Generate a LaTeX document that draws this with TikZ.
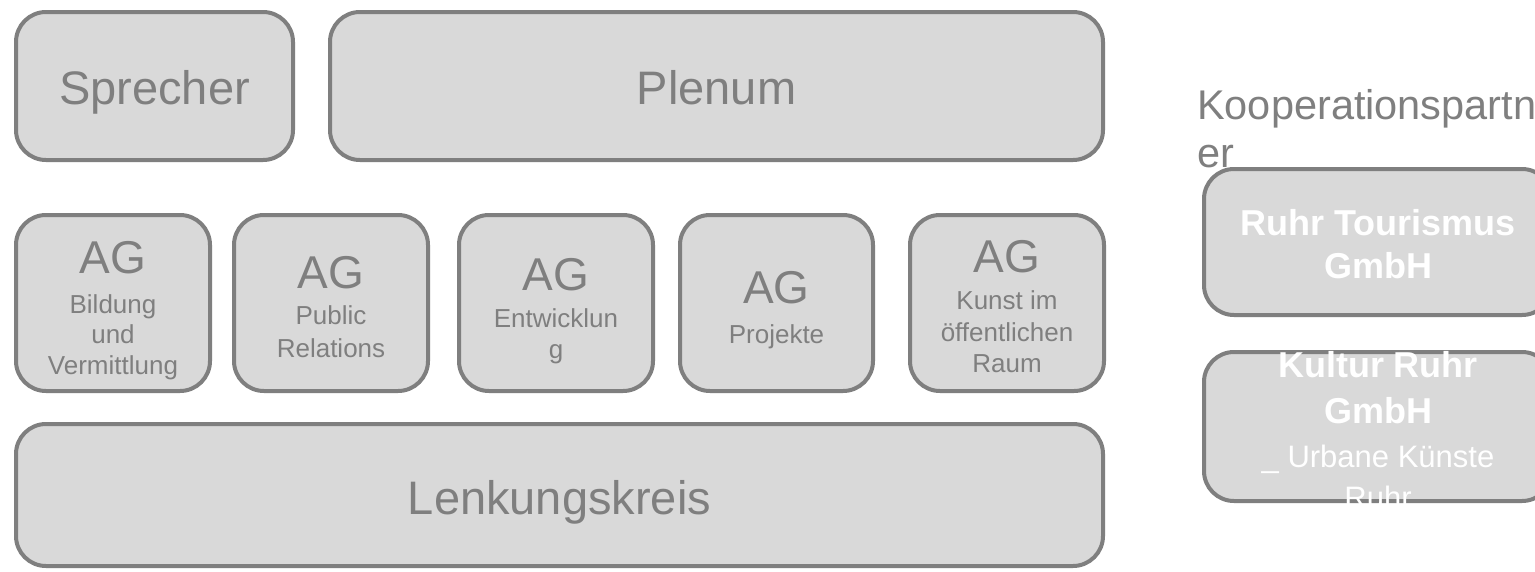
\documentclass[tikz,border=0pt]{standalone}
\usepackage{fontspec}
\setmainfont{Liberation Sans}
\definecolor{boxfill}{HTML}{D9D9D9}
\definecolor{boxline}{HTML}{7F7F7F}
\definecolor{txtgray}{HTML}{7F7F7F}
\tikzset{
  box/.style={draw=boxline, fill=boxfill, line width=4pt, rounded corners=30pt, inner sep=0pt},
  big/.style={text=txtgray, inner sep=0pt, anchor=base, font=\fontsize{47}{56}\selectfont},
  ag/.style={text=txtgray, inner sep=0pt, anchor=base, font=\fontsize{46}{55}\selectfont},
  sub/.style={text=txtgray, inner sep=0pt, anchor=base, font=\fontsize{26}{31}\selectfont},
  side/.style={text=txtgray, inner sep=0pt, anchor=base west, font=\fontsize{41.5}{48}\selectfont},
  wbold/.style={text=white, inner sep=0pt, anchor=base, font=\fontsize{36}{43}\selectfont\bfseries},
  wreg/.style={text=white, inner sep=0pt, anchor=base, font=\fontsize{31}{40}\selectfont},
}
\begin{document}
\begin{tikzpicture}[x=1pt, y=-1pt]
\useasboundingbox[fill=white] (0,0) rectangle (1535,571);
% top row
\node[box, minimum width=277, minimum height=148] (sprecher) at (154.5,86) {};
\node[big] (sprechert) at (154.5,104) {Sprecher};
\node[box, minimum width=773, minimum height=148] (plenum) at (716.5,86) {};
\node[big] (plenumt) at (716.5,104) {Plenum};
% AG row
\node[box, minimum width=194, minimum height=176] (ag1) at (113,303) {};
\node[ag] (ag1a) at (113,273) {AG};
\node[sub] (ag1b) at (113,313) {Bildung};
\node[sub] (ag1c) at (113,343) {und};
\node[sub] (ag1d) at (113,374) {Vermittlung};
\node[box, minimum width=194, minimum height=176] (ag2) at (331,303) {};
\node[ag] (ag2a) at (331,288) {AG};
\node[sub] (ag2b) at (331,324) {Public};
\node[sub] (ag2c) at (331,357) {Relations};
\node[box, minimum width=194, minimum height=176] (ag3) at (556,303) {};
\node[ag] (ag3a) at (556,290) {AG};
\node[sub] (ag3b) at (556,327) {Entwicklun};
\node[sub] (ag3c) at (556,358) {g};
\node[box, minimum width=193, minimum height=176] (ag4) at (776.5,303) {};
\node[ag] (ag4a) at (776.5,303) {AG};
\node[sub] (ag4b) at (776.5,343) {Projekte};
\node[box, minimum width=194, minimum height=176] (ag5) at (1007,303) {};
\node[ag] (ag5a) at (1007,272) {AG};
\node[sub] (ag5b) at (1007,309) {Kunst im};
\node[sub] (ag5c) at (1007,341) {öffentlichen};
\node[sub] (ag5d) at (1007,372) {Raum};
% bottom
\node[box, minimum width=1087, minimum height=142] (lenk) at (559.5,495) {};
\node[big] (lenkt) at (559.5,514) {Lenkungskreis};
% right side
\node[side] (koop1) at (1197,119) {Kooperationspartn};
\node[side] (koop2) at (1197,167) {er};
\node[box, minimum width=348, minimum height=146] (rt) at (1378,242) {};
\node[wbold] (rt1) at (1378,235) {Ruhr Tourismus};
\node[wbold] (rt2) at (1378,278) {GmbH};
\node[box, minimum width=348, minimum height=149] (kr) at (1378,426.5) {};
\node[wbold] (kr1) at (1378,377) {Kultur Ruhr};
\node[wbold] (kr2) at (1378,423) {GmbH};
\node[wreg] (kr3) at (1378,467) {\_ Urbane Künste};
\node[wreg] (kr4) at (1378,508) {Ruhr};
\end{tikzpicture}
\end{document}
